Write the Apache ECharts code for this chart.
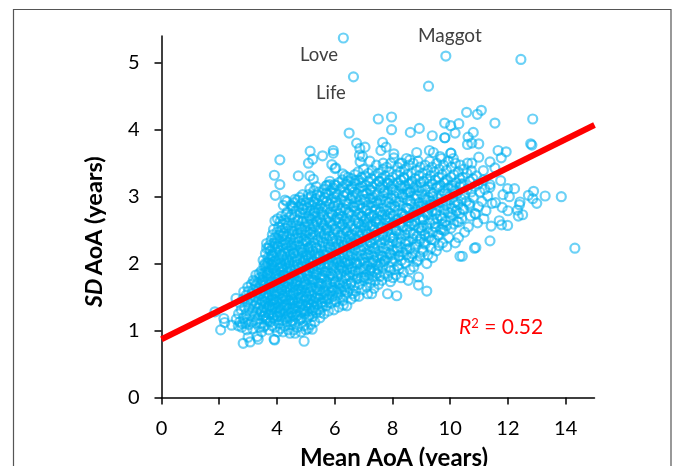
<!DOCTYPE html>
<html><head><meta charset="utf-8">
<style>html,body{margin:0;padding:0;background:#fff;overflow:hidden}#c{width:675px;height:466px}</style>
<script src="https://cdn.jsdelivr.net/npm/echarts@6/dist/echarts.min.js"></script>
</head><body><div id="c"></div>
<script>
const xTicks=[0,2,4,6,8,10,12,14];
const yTicks=[0,1,2,3,4,5];
const trendLine=[[0,0.87],[15,4.07]];
const outliers=[[6.3,5.37],[6.65,4.79],[9.85,5.1],[12.45,5.05],[9.25,4.65],
[10.57,4.26],[11.08,4.29],[10.94,4.23],[12.86,4.16],[11.55,4.1],[9.81,4.1],[10.3,4.09],[10.02,4.06],[10.17,3.95],[9.81,3.88],[10.8,3.96],[10.62,3.89],[10.6,3.78],[10.75,3.8],[10.99,3.79],[12.79,3.79],[12.83,3.77],[11.66,3.69],[11.94,3.67],[11.77,3.58],[10.99,3.59],[10.02,3.65],[11.38,3.52],[11.55,3.43],[10.75,3.5],[11.15,3.39],[11.75,3.24],[11.38,3.18],[11.38,3.14],[12.23,3.12],[11.99,3.12],[12.89,3.08],[12.71,3.02],[13.29,3.01],[13.85,3.0],[13.0,2.9],[12.86,2.97],[12.42,2.92],[12.4,2.88],[12.05,3.0],[11.83,3.03],[12.36,2.71],[12.51,2.73],[12.33,2.8],[12.0,2.79],[11.8,2.84],[11.57,2.91],[11.45,2.9],[11.99,2.57],[11.78,2.58],[11.7,2.64],[11.38,2.34],[11.42,2.56],[14.32,2.23],[10.42,2.11],[10.89,2.24],[10.84,2.23],
[4.1,3.55],[5.15,3.68],[5.24,3.56],[5.09,3.5],[5.58,3.61],[5.95,3.69],[5.95,3.65],[3.91,3.32],[4.74,3.31],[5.14,3.31],[5.26,3.26],[4.1,3.18],[3.94,3.02],[5.14,3.12],[5.9,3.48],[6.04,3.43],[5.7,3.16],[5.82,3.18],[5.99,3.18],[4.89,3.03],[5.09,3.03],[4.62,2.96],[4.28,2.95],[4.34,2.93],[4.22,2.87],[4.54,2.86],[4.9,2.82],[5.3,2.92],[3.93,2.64],
[1.85,1.28],[2.16,1.18],[2.19,1.12],[2.05,1.01],[2.43,1.08],[2.58,1.48],[2.83,0.81],[3.07,0.83],[3.32,0.91],[3.35,0.87],[3.0,0.9],[3.9,0.87],[3.92,0.86],[4.45,0.96],[4.63,0.96],[4.94,0.84],[5.0,1.01],[5.22,1.02],[3.53,1.05],[4.02,0.98],[2.8,1.1],[2.85,1.58],[3.24,1.73],[3.27,1.83],[3.58,2.0],[3.7,2.0],[3.5,1.85],[3.64,2.3],[3.64,2.23],[3.83,2.12],
[8.9,1.8],[8.9,1.68],[9.19,1.59],[7.83,1.55],[8.15,1.52],[7.14,1.55],[6.7,1.51],[6.3,1.38],[6.01,1.46],[7.4,1.74],[8.02,1.79],[8.3,1.79],[8.23,1.92],[9.19,2.0],[9.39,2.09],[8.67,2.1],[8.87,2.05],[9.07,2.18],[9.88,2.25],[10.34,2.11],
[7.51,4.16],[7.97,4.19],[7.97,4.0],[6.5,3.95],[8.62,3.96],[8.93,4.02],[9.38,3.91],[9.82,3.88],[6.76,3.8],[6.87,3.72],[7.05,3.74],[7.66,3.81],[7.6,3.69],[7.78,3.74],[8.05,3.64],[8.05,3.58],[8.84,3.66],[9.28,3.69],[9.42,3.66],[10.03,3.65],[9.65,3.6],[8.6,3.55],[8.26,3.5],[7.68,3.5],[7.22,3.53],[6.88,3.52],[6.96,3.6],[6.86,3.62],[6.01,3.42],[6.28,3.34],[6.47,3.29],[6.7,3.24]];
const cloudRows=[
[0.98,[3.47,4.21,4.83]],[1.01,[2.96,3.71,4.39,4.58]],[1.03,[3.16,4.12,5.08]],[1.05,[2.78,3.39,3.92,4.71]],[1.07,[2.66,3.58,3.83,4.27,4.93]],
[1.09,[3.03,4.49,5.17]],[1.11,[2.91,3.27,3.46,4.06,4.62]],[1.13,[2.71,3.12,3.77,4.35,5.31]],[1.15,[3.68,3.94,4.18,4.54,4.77]],[1.17,[2.59,2.98,3.34,4.29,5.03]],
[1.19,[2.84,3.62,3.86,4.44,4.87,5.49]],[1.21,[3.21,3.53,4.01,4.13,4.66,5.24]],[1.23,[3.06,3.41,3.89,4.38,4.58,4.72,5.12]],[1.25,[2.67,2.93,3.72,4.24,4.96,5.63]],[1.27,[3.29,3.6,3.98,4.51,4.82,5.36]],
[1.29,[3.14,3.48,4.09,4.31,4.69,5.05,5.21,5.78]],[1.31,[2.76,3.81,4.17,4.9,5.44,5.97]],[1.33,[3.02,3.36,3.65,3.93,4.42,4.56,5.14]],[1.35,[2.88,3.55,4.04,4.25,4.79,5.29,5.58,6.14]],[1.37,[3.23,3.75,4.11,4.63,5.0,5.71,6.42]],
[1.39,[3.09,3.43,3.87,4.34,4.85,5.18,5.38]],[1.41,[2.71,3.3,3.69,4.48,4.6,5.09,5.52,5.88]],[1.43,[2.97,3.59,3.99,4.2,4.74,5.26,5.67,6.05]],[1.45,[3.17,3.49,3.78,4.07,4.41,4.95,6.28]],[1.47,[2.82,3.38,3.84,4.15,4.53,5.12,5.46,5.8,6.57]],
[1.49,[3.06,3.63,4.3,4.67,4.81,5.33,5.6,6.19]],[1.51,[3.25,3.54,3.96,4.22,4.89,5.03,5.93,6.84]],[1.53,[2.94,3.72,4.47,5.21,5.51,5.74,6.36]],[1.55,[3.13,3.44,3.82,4.09,4.57,4.75,5.4,6.62,7.28]],[1.57,[3.31,3.61,4.36,4.98,5.13,5.85,6.08,6.45]],
[1.59,[3.02,3.9,4.02,4.28,4.64,5.28,5.62,6.24,6.73]],[1.61,[3.19,3.5,3.76,4.16,4.7,4.86,5.49,5.99,6.95]],[1.63,[3.37,4.44,5.07,5.77,6.13,6.51,7.36]],[1.65,[2.99,3.67,3.86,4.06,4.33,4.54,4.92,5.35,5.91,6.32,7.11]],[1.67,[3.26,3.56,3.97,4.23,4.78,5.17,5.69,6.67]],
[1.69,[3.11,3.45,3.74,4.61,5.01,5.55,6.41,6.86,7.52]],[1.71,[3.33,3.92,4.12,4.39,4.84,5.43,5.83,6.17,7.24]],[1.73,[3.59,3.81,4.27,4.51,4.96,5.22,5.72,6.03,6.58,7.93]],[1.75,[3.18,3.48,4.68,5.31,6.26,7.02,7.63,8.55]],[1.77,[3.68,4.03,4.18,4.46,5.09,5.64,5.95,6.76,7.17]],
[1.79,[3.41,3.94,4.59,4.88,5.5,6.37,6.93]],[1.81,[3.52,3.77,4.32,4.74,5.16,5.81,6.11,6.49,7.31,7.57,7.84]],[1.83,[3.65,4.09,4.24,4.55,5.04,5.59,6.63,7.08,8.12]],[1.85,[3.38,3.88,4.66,5.26,5.87,6.22,7.46,7.71]],[1.87,[3.6,3.73,4.14,4.37,4.82,5.37,5.68,6.0,6.54,6.82,7.21,8.38]],
[1.89,[3.46,3.97,4.5,4.99,5.11,5.76,6.33,6.71,7.38,7.92]],[1.91,[3.7,4.21,4.63,5.44,6.15,6.42,7.0,7.5,8.06,8.61]],[1.93,[3.84,4.07,4.35,4.76,5.24,5.53,5.9,6.89,7.27]],[1.95,[3.62,3.91,4.18,4.93,5.65,6.27,6.58,7.66,7.88,8.74]],[1.97,[3.55,4.44,4.57,5.06,5.33,5.97,6.19,7.13,8.19]],
[1.99,[3.79,4.02,4.29,4.71,5.47,5.8,6.47,6.78,7.43]],[2.01,[3.66,4.13,4.87,5.15,6.08,6.36,6.69,7.04,7.58,8.44]],[2.03,[3.86,4.41,4.62,5.27,5.92,6.25,6.87,7.22,7.97,8.84]],[2.05,[3.52,3.96,4.24,4.98,5.58,6.54,7.35,7.74,8.31]],[2.07,[3.75,4.53,4.79,5.09,5.39,5.71,6.04,6.63,6.98,8.08]],
[2.09,[3.69,4.08,4.34,5.19,5.84,6.32,7.11,7.47,7.83,8.57]],[2.11,[3.89,4.68,4.9,5.51,6.16,6.76,7.65,8.22,8.95]],[2.13,[3.82,4.16,4.46,5.02,5.3,5.63,6.45,6.93,7.28,8.49,9.23]],[2.15,[3.6,4.26,4.58,5.42,5.95,6.59,7.06,7.91,8.7]],[2.17,[3.98,4.73,4.88,5.13,5.75,6.28,7.41,7.78,8.36]],
[2.19,[3.77,4.11,4.38,5.23,6.1,6.39,6.83,7.55,8.15,9.52]],[2.21,[3.93,4.6,4.96,5.54,5.86,6.71,7.19,8.03,9.03]],[2.23,[3.71,4.31,4.52,5.07,5.35,6.21,6.52,7.33,7.69,8.61,9.34]],[2.25,[3.85,4.05,4.8,5.66,6.0,6.99,8.27,8.79]],[2.27,[3.74,4.2,4.43,4.67,5.18,5.48,6.34,6.65,7.49,7.86,9.61]],
[2.29,[3.95,4.91,5.79,6.12,6.77,7.12,8.45,9.13]],[2.31,[3.9,4.36,4.59,5.28,5.6,6.44,7.25,7.61,8.14,9.74,10.18]],[2.33,[4.12,4.76,5.01,5.93,6.24,6.57,6.9,7.99,8.56,8.93]],[2.35,[3.8,4.27,4.95,5.41,6.05,7.04,7.75,9.46]],[2.37,[4.01,4.48,5.12,5.72,6.37,6.7,7.39,8.31,8.7]],
[2.39,[3.94,4.64,4.86,5.22,5.52,6.17,7.18,7.92,9.26,9.95,10.29]],[2.41,[4.18,4.33,5.83,6.5,6.84,7.54,8.06,8.85]],[2.43,[3.84,4.07,4.55,4.98,5.32,5.98,6.62,7.31,8.44,9.12,9.58]],[2.45,[4.23,4.42,4.71,5.65,6.29,6.97,7.68,8.22]],[2.47,[4.0,5.06,5.25,6.1,6.78,7.46,8.62,9.39,10.5]],
[2.49,[4.13,4.61,5.5,5.8,6.44,7.1,7.84,9.01,9.8]],[2.51,[3.88,4.85,5.16,6.02,6.68,7.37,8.12,8.51,9.67]],[2.53,[4.29,4.5,5.42,5.73,6.35,7.01,7.74,8.92,9.2,10.03]],[2.55,[4.06,4.77,4.97,5.31,6.21,6.91,7.62,8.35,9.49,10.63]],[2.57,[4.39,4.66,5.62,5.91,6.56,7.24,7.97,8.75,9.07,9.88]],
[2.59,[4.19,5.09,5.24,5.85,6.47,7.15,7.53,8.27,8.66,9.72,10.12]],[2.61,[4.34,4.56,5.55,6.16,6.81,7.89,9.3,10.95]],[2.63,[4.11,4.88,5.02,5.39,6.33,7.03,7.4,8.55,9.83,10.24]],[2.65,[4.26,4.72,5.7,6.03,6.69,7.77,8.15,8.96,9.41]],[2.67,[4.02,4.93,5.18,6.42,7.09,7.46,8.21,9.55,10.4,11.17]],
[2.69,[4.42,4.62,5.47,5.78,6.09,6.75,7.83,8.6,9.04,10.01]],[2.71,[4.16,5.1,5.33,6.25,6.93,7.28,8.02,8.42,9.66,10.7]],[2.73,[4.31,4.51,5.6,5.92,6.58,7.64,8.82,9.22,10.08]],[2.75,[4.8,4.99,5.26,6.14,6.84,7.2,7.93,8.33,9.5,10.33,10.86]],[2.77,[4.36,5.53,5.84,6.48,7.56,8.73,9.14,9.93]],
[2.79,[4.66,5.15,6.06,6.72,7.07,7.79,8.17,9.37,10.22,11.24]],[2.81,[4.89,5.43,5.74,6.38,7.42,8.57,8.98,9.78,10.47]],[2.83,[4.55,5.04,5.34,6.28,6.97,7.7,8.48,9.29,10.06]],[2.85,[4.75,5.66,5.96,6.63,7.33,8.08,8.88,9.62,10.98]],[2.87,[4.48,4.97,5.22,5.5,6.12,6.8,7.16,8.26,9.06,9.85,10.66]],
[2.89,[4.84,5.41,5.82,6.46,7.51,8.64,9.45,10.28]],[2.91,[4.6,5.12,6.02,6.7,7.39,7.88,8.93,9.74,10.15]],[2.93,[5.27,5.72,6.36,7.04,7.76,8.13,9.33,10.56,11.1]],[2.95,[4.71,4.91,5.59,6.22,6.89,7.6,8.53,9.18,9.97]],[2.97,[5.06,5.35,5.88,6.55,7.24,7.97,8.77,9.58,10.38]],
[2.99,[4.79,5.65,5.98,7.32,8.37,9.25,10.1,10.8]],[3.01,[5.19,5.49,6.31,6.62,7.69,8.05,8.86,9.68,11.3]],[3.03,[5.4,5.77,6.09,6.98,7.47,8.45,9.02,10.5]],[3.05,[5.69,6.0,6.43,6.77,7.12,7.84,8.22,9.41,9.82,10.25]],[3.07,[5.45,6.34,6.67,7.37,8.62,9.33,10.73,11.03]],
[3.09,[5.28,5.86,7.01,7.74,8.12,8.91,9.76,10.16]],[3.11,[5.63,6.19,6.52,7.22,8.51,9.14,10.59,11.2]],[3.13,[5.95,6.87,7.58,8.34,8.74,9.53,9.93]],[3.15,[5.36,6.28,6.6,7.3,7.96,9.23,10.34,10.85]],[3.17,[5.74,6.05,7.08,7.66,8.43,8.82,9.65,10.05]],
[3.19,[6.39,6.72,7.44,8.03,8.58,9.38,10.46,10.97]],[3.21,[6.14,6.94,7.81,8.19,8.98,9.79,10.2]],[3.23,[5.83,6.47,7.18,7.53,8.68,9.08,10.68]],[3.25,[6.26,6.83,7.9,8.29,9.49,9.9,11.15]],[3.27,[6.58,7.27,7.63,8.79,9.19,10.33,10.79]],
[3.29,[6.93,8.0,8.39,9.6,10.02,10.44]],[3.31,[6.36,7.05,7.39,7.75,8.92,9.32,10.91]],[3.33,[6.7,8.14,8.52,9.72,10.13]],[3.35,[7.17,7.52,8.66,9.05,10.58]],[3.37,[6.81,7.89,8.27,9.45,10.28]],
[3.39,[7.3,8.83,9.22,9.87,10.73]],[3.41,[7.0,7.67,8.42,9.62,10.47]],[3.44,[7.8,8.18,8.96,9.37,10.04]],[3.47,[7.44,8.57,9.13,9.77,10.36]],[3.5,[7.94,8.33,8.72,9.53,10.18,10.6]],[3.53,[8.89,9.29,9.94]],[3.57,[8.49,9.7,10.11]]
];
const coreExtra=[[4.2,1.52],[4.37,1.66],[4.55,1.44],[4.68,1.73],[4.83,1.58],[5.02,1.86],[5.19,1.64],[4.05,1.78],[3.88,1.46],[3.73,1.63],[4.47,1.92],[4.92,2.04],[5.28,1.92],[5.45,2.11],[5.11,2.24],[4.58,2.16],[4.33,2.06],[4.12,1.94],[5.57,1.79],[5.74,1.98],[5.92,1.82],[6.07,2.07],[6.23,1.94],[5.83,2.24],[6.31,2.27],[6.52,2.12],[5.64,2.42],[5.98,2.52],[6.42,2.48],[6.74,2.36],[7.02,2.56],[7.23,2.31],[7.44,2.62],[7.66,2.42],[7.91,2.68],[8.13,2.49],[8.36,2.74],[8.59,2.56],[8.83,2.81],[9.07,2.66],[9.31,2.88],[6.67,2.84],[6.96,2.71],[7.27,2.91],[7.58,2.78],[7.83,2.98],[8.08,2.86],[8.34,3.03],[8.61,2.94],[6.16,2.67],[4.72,2.38],[4.99,2.49],[5.37,2.62],[3.45,1.28],[3.62,1.17],[3.84,1.34],[4.02,1.21],[4.26,1.38],[4.49,1.26],[4.72,1.41],[4.94,1.29],[5.18,1.46],[5.41,1.61],
[3.55,1.22],[3.78,1.24],[4.11,1.27],[4.63,1.33],[5.08,1.38],[5.27,1.31],[3.92,1.41],[4.31,1.46],[4.58,1.57],[5.02,1.47],[5.37,1.49],[5.56,1.42],[3.69,1.5],[3.95,1.56],[4.16,1.61],[4.41,1.74],[4.76,1.62],[4.97,1.68],[5.24,1.76],[5.48,1.71],[5.66,1.57],[5.9,1.6],[3.83,1.72],[4.0,1.85],[4.23,1.83],[4.55,1.83],[4.8,1.8],[5.13,1.94],[5.36,1.83],[5.66,1.88],[6.01,1.72],[6.18,1.68],[6.4,1.82],[6.62,1.92],[3.9,2.03],[4.2,2.11],[4.42,2.01],[4.7,2.07],[4.85,1.96],[5.06,2.13],[5.25,2.03],[5.5,1.99],[5.68,2.14],[5.97,2.13],[6.14,2.02],[6.44,2.03],[6.75,2.01],[7.05,1.92],[7.3,2.02],[4.02,2.26],[4.29,2.29],[4.5,2.27],[4.86,2.21],[5.03,2.33],[5.36,2.24],[5.58,2.32],[5.92,2.37],[6.05,2.24],[6.62,2.29],[6.92,2.2],[7.16,2.13],[7.38,2.23],[7.62,2.12],[7.9,2.3],[8.18,2.22],[4.22,2.42],[4.52,2.49],[4.83,2.47],[5.16,2.44],[5.46,2.46],[5.72,2.51],[6.22,2.42],[6.57,2.43],[6.89,2.5],[7.13,2.44],[7.33,2.55],[7.56,2.36],[7.79,2.53],[8.03,2.38],[8.27,2.44],[8.47,2.33],[8.72,2.45],[8.98,2.37],[4.75,2.64],[5.12,2.68],[5.52,2.66],[5.82,2.62],[6.27,2.59],[6.52,2.64],[6.83,2.6],[7.19,2.69],[7.54,2.65],[7.74,2.73],[8.04,2.61],[8.26,2.62],[8.48,2.68],[8.78,2.63],[9.0,2.54],[9.24,2.46],[9.48,2.6],[9.73,2.51],[5.3,2.77],[5.58,2.83],[5.9,2.74],[6.2,2.79],[6.5,2.75],[6.86,2.88],[7.12,2.79],[7.36,2.72],[7.93,2.84],[8.22,2.93],[8.5,2.83],[8.74,2.72],[9.0,2.86],[9.2,2.76],[9.53,2.79],[9.72,2.67],[10.0,2.76],[10.3,2.62],[6.04,2.94],[6.4,2.9],[6.73,2.98],[7.07,2.96],[7.45,2.93],[7.7,3.06],[8.0,3.11],[8.28,3.16],[8.55,3.06],[8.8,3.02],[9.12,2.96],[9.4,3.0],[9.66,2.92],[9.9,3.04],[10.2,2.93],[10.43,2.82],[10.67,2.9],[10.88,2.74],[6.6,3.12],[6.95,3.15],[7.25,3.09],[7.55,3.23],[7.86,3.2],[8.4,3.27],[8.66,3.2],[9.0,3.14],[9.3,3.23],[9.58,3.15],[9.84,3.24],[10.1,3.12],[10.38,3.19],[3.72,1.36],[3.56,1.43],[3.41,1.55],[3.5,1.71],[3.68,1.85],[3.82,1.98],[4.35,1.2],[4.82,1.17],[5.1,1.2],[5.5,1.27],[5.72,1.47],[6.12,1.53],[6.35,1.6],[6.56,1.71],[6.8,1.78],[7.02,1.8],[7.24,1.9],[7.5,1.97],[7.72,2.03],[7.98,2.13],[8.24,2.12],[8.5,2.22],[8.82,2.29],[9.1,2.32],[9.35,2.36],[9.6,2.42]];
const scatterPoints=outliers.concat(coreExtra);
cloudRows.forEach(r=>r[1].forEach(x=>scatterPoints.push([x,r[0]])));
const FONT='Lato';
const chart=echarts.init(document.getElementById('c'),null,{renderer:'canvas'});
chart.setOption({
 animation:false,backgroundColor:'#fff',
 grid:{left:161.5,right:80.5,top:36,bottom:68.5,outerBoundsMode:'none'},
 xAxis:{type:'value',min:0,max:15,interval:2,
  axisLine:{show:true,onZero:false,lineStyle:{color:'#000',width:1.5}},
  axisTick:{show:true,length:7,lineStyle:{color:'#000',width:1.5}},
  axisLabel:{color:'#000',fontFamily:FONT,fontSize:20,margin:21,showMaxLabel:false,
   formatter:v=>xTicks.includes(v)?String(v):''},
  splitLine:{show:false},
  name:'Mean AoA (years)',nameLocation:'middle',nameGap:49,
  nameTextStyle:{color:'#000',fontFamily:FONT,fontSize:24,fontWeight:'bold',padding:[0,0,0,32]}},
 yAxis:{type:'value',min:0,max:5.4,interval:1,
  axisLine:{show:true,onZero:false,lineStyle:{color:'#000',width:1.5}},
  axisTick:{show:true,length:7,lineStyle:{color:'#000',width:1.5}},
  axisLabel:{color:'#000',fontFamily:FONT,fontSize:20,margin:22,showMaxLabel:false,
   formatter:v=>yTicks.includes(v)?String(v):''},
  splitLine:{show:false},
  name:'{i|SD} {b|AoA (years)}',nameLocation:'middle',nameGap:55,nameRotate:90,
  nameTextStyle:{padding:[0,30,0,0],rich:{
   i:{color:'#000',fontFamily:FONT,fontSize:23.5,fontWeight:'bold',fontStyle:'italic'},
   b:{color:'#000',fontFamily:FONT,fontSize:23.5,fontWeight:'bold'}}}},
 series:[
  {type:'scatter',data:scatterPoints,symbol:'circle',symbolSize:9,large:false,
   itemStyle:{color:'rgba(0,0,0,0)',borderColor:'#00B0F0',borderWidth:2.2,opacity:0.58},z:2},
  {type:'line',data:trendLine,symbol:'none',silent:true,
   lineStyle:{color:'#FF0000',width:6,cap:'butt'},z:3}
 ],
 graphic:[
  {type:'polyline',silent:true,shape:{points:[[13.5,480],[13.5,9.5],[671,9.5],[671,480]]},
   style:{stroke:'#555',lineWidth:1.2,fill:null},z:0},
  {type:'text',left:300,top:46,silent:true,style:{text:'Love',fontFamily:FONT,fontSize:18.5,fill:'#404040'}},
  {type:'text',left:316,top:84,silent:true,style:{text:'Life',fontFamily:FONT,fontSize:18.5,fill:'#404040'}},
  {type:'text',left:418,top:26,silent:true,style:{text:'Maggot',fontFamily:FONT,fontSize:19,fill:'#404040'}},
  {type:'text',left:459,top:317,silent:true,style:{
    text:'{i|R}{s|2}{n| = 0.52}',
    rich:{i:{fontFamily:FONT,fontSize:21,fontStyle:'italic',fill:'#FF0000'},
     s:{fontFamily:FONT,fontSize:13,fill:'#FF0000',verticalAlign:'top',lineHeight:13},
     n:{fontFamily:FONT,fontSize:21,fill:'#FF0000'}}}}
 ]
});
</script></body></html>
